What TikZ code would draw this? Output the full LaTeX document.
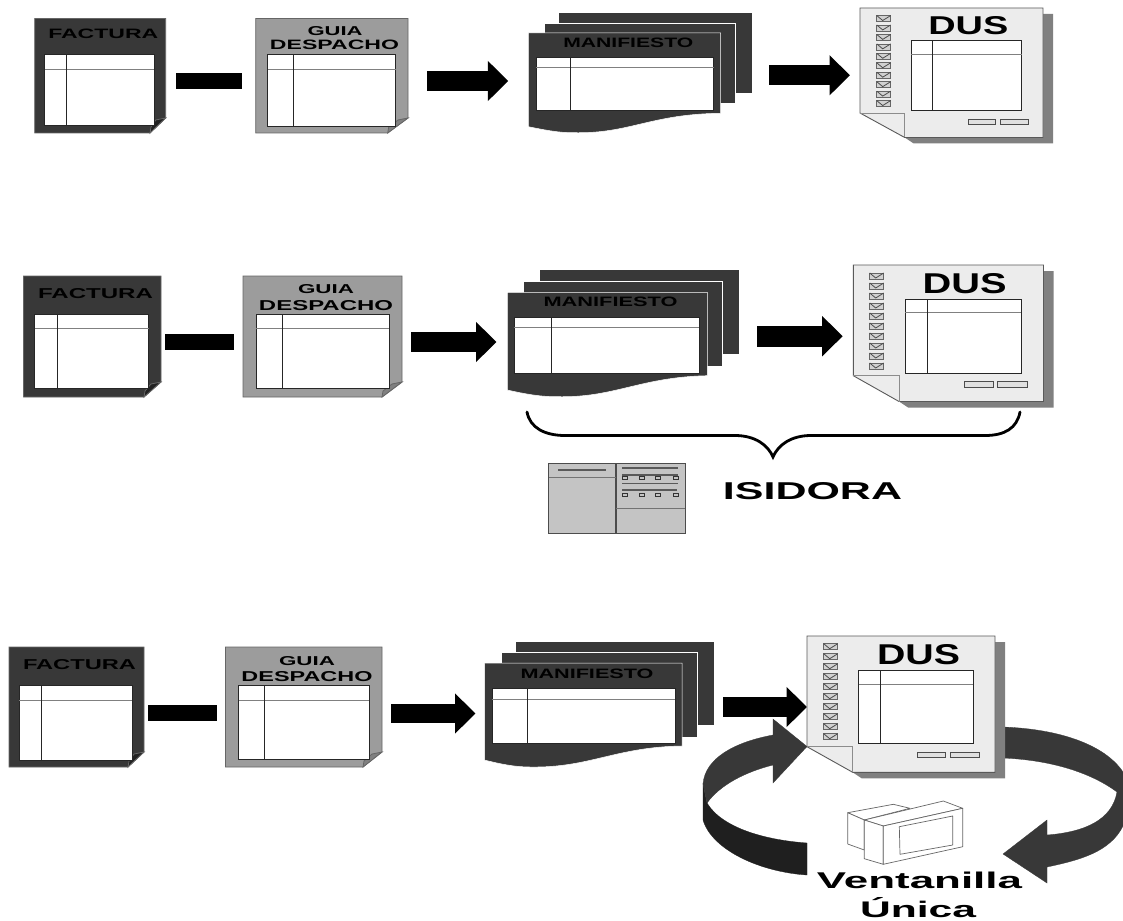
\documentclass[tikz,border=0pt]{standalone}
\usepackage{graphicx}
\usepackage{fontspec}
\setmainfont{Liberation Sans}
\usetikzlibrary{arrows.meta}
\definecolor{darkpg}{HTML}{383838}
\definecolor{darkfold}{HTML}{222222}
\definecolor{graypg}{HTML}{9C9C9C}
\definecolor{grayfold}{HTML}{808080}
\definecolor{edgegray}{HTML}{666666}
\definecolor{duspg}{HTML}{ECECEC}
\definecolor{shadowgray}{HTML}{808080}
\definecolor{isibox}{HTML}{C4C4C4}
\tikzset{
  txt/.style={inner sep=0pt,outer sep=0pt,anchor=base,font=\bfseries,text=black},
  sheetline/.style={draw=edgegray,line width=0.8pt},
  tablebox/.style={fill=white,draw=black!85,line width=0.9pt},
  rowline/.style={draw=black!50,line width=0.9pt},
  colline/.style={draw=black!85,line width=0.9pt},
  joinbar/.style={draw=black,line width=16pt},
  blockarrow/.style={draw=black,line width=#1pt,-{Triangle[length=20.5pt,width=39pt]}},
  brace/.style={draw=black,line width=2.8pt,line cap=round},
  isiline/.style={draw=black!70,line width=1.1pt},
  isibar/.style={draw=black!65,line width=1.4pt},
  isisq/.style={draw=black!80,fill=isibox,line width=0.7pt},
  ribbon/.style={fill=darkpg,draw=darkpg,line width=0.3pt},
  ribbondark/.style={fill=black!88,draw=black!88,line width=0.3pt},
  kiosk/.style={fill=white,draw=black!60,line width=0.7pt,line join=round},
  dusbtn/.style={fill=black!12,draw=black!70,line width=0.7pt},
}
% text stretched to a given width and height, placed by its baseline
\newcommand\lbl[6]{\node[txt] (#1) at (#2,#3) {\resizebox{#4pt}{#5pt}{#6}};}
% sheet with one clipped corner: fill, fold fill, x0,y0,x1,y1,cut x
\newcommand\sheet[7]{%
  \path[sheetline,fill=#1] (#3,#4) -- (#5,#4) -- (#5,#6-15) -- (#7,#6) -- (#3,#6) -- cycle;
  \path[sheetline,fill=#2] (#5,#6-15) -- (#5-10,#6-13) -- (#7+1,#6-6) -- (#7,#6) -- cycle;}
% table: x0,y0,x1,y1,column x,row y
\newcommand\grid[6]{%
  \path[tablebox] (#1,#2) rectangle (#3,#4);
  \path[rowline] (#1,#6) -- (#3,#6);
  \path[colline] (#5,#2) -- (#5,#4);}
% DUS page: x0,y0,x1,y1,fold x,fold y,check x,first check y,check step
\newcommand\duspage[9]{%
  \fill[shadowgray] (#3,#2+6) -- (#3+10,#2+6) -- (#3+10,#4+6) -- (#5+9,#4+6) -- (#5,#4) -- (#3,#4) -- cycle;
  \path[fill=duspg,draw=black!65,line width=0.9pt] (#1,#2) -- (#3,#2) -- (#3,#4) -- (#5,#4) -- (#1,#6) -- cycle;
  \draw[black!45,line width=0.8pt] (#1,#6) -- (#5,#6) -- (#5,#4);
  \foreach \k in {0,...,9}{
    \path[fill=black!18,draw=black!60,line width=0.6pt] (#7-7,#8+\k*#9-3) rectangle (#7+7,#8+\k*#9+3);
    \draw[black!70,line width=0.8pt] (#7-7,#8+\k*#9-3) -- (#7-1,#8+\k*#9+2) -- (#7+7,#8+\k*#9-3);
  }}
\newcommand\dusbuttons[6]{%
  \path[dusbtn] (#1,#5) rectangle (#2,#6);
  \path[dusbtn] (#3,#5) rectangle (#4,#6);}
\begin{document}
\begin{tikzpicture}[x=1pt,y=-1pt]
\useasboundingbox (0,0) rectangle (1123,920);
\fill[white] (0,0) rectangle (1123,920);

%%%%% ROW 1
\sheet{darkpg}{darkfold}{34.7}{18.5}{165.7}{133}{150}
\grid{44.7}{54.5}{154.3}{125.5}{66.3}{69}
\lbl{factA}{103.3}{39}{110}{9.5}{FACTURA}
\coordinate (a1) at (176,81); \coordinate (a2) at (242.3,81);
\draw[joinbar] (a1) -- (a2);
\sheet{graypg}{grayfold}{255.7}{18.5}{408}{133}{387.7}
\grid{267.7}{54.5}{395.7}{126}{293.7}{69}
\lbl{guiaA}{335}{36}{55}{9}{GUIA}
\lbl{despA}{334.5}{50}{129}{9.5}{DESPACHO}
\coordinate (b1) at (427.3,81); \coordinate (b2) at (508.3,81);
\draw[blockarrow=19.5] (b1) -- (b2);
\fill[darkpg] (559.3,13.3) rectangle (751.7,93);
\path[fill=darkpg,draw=white,line width=0.5pt] (544.3,23.3) rectangle (735,103);
\path[fill=darkpg,draw=white,line width=0.5pt] (528.3,33) -- (720.7,33) -- (720.7,113.3) .. controls (650,114) and (630,134) .. (573,132.7) .. controls (558,132.7) and (545,130) .. (528.3,126.7) -- cycle;
\grid{536}{57}{713.7}{110.7}{570}{67}
\lbl{manA}{628.3}{48}{130}{9.5}{MANIFIESTO}
\coordinate (c1) at (769.3,75.3); \coordinate (c2) at (850,75.3);
\draw[blockarrow=20] (c1) -- (c2);
\duspage{860}{8}{1043}{137.5}{904.7}{113}{883.7}{18.5}{9.45}
\grid{911}{40.7}{1021.6}{110.7}{932.3}{54}
\dusbuttons{968.3}{995}{1000}{1028.7}{119}{124.3}
\lbl{dusA}{968.3}{35}{80}{18}{DUS}

%%%%% ROW 2
\sheet{darkpg}{darkfold}{23.5}{276}{161}{397}{144}
\grid{34.5}{314.5}{148.5}{388.5}{57}{328}
\lbl{factB}{95.5}{298}{115}{10}{FACTURA}
\coordinate (d1) at (165,342); \coordinate (d2) at (234,342);
\draw[joinbar] (d1) -- (d2);
\sheet{graypg}{grayfold}{243}{276}{402}{397}{382}
\grid{256}{314.5}{389}{388.5}{282.5}{328}
\lbl{guiaB}{326}{293.5}{56}{9}{GUIA}
\lbl{despB}{326}{310}{134}{10}{DESPACHO}
\coordinate (e1) at (411,342); \coordinate (e2) at (496.5,342);
\draw[blockarrow=20] (e1) -- (e2);
\fill[darkpg] (540,270) rectangle (739.3,354.3);
\path[fill=darkpg,draw=white,line width=0.5pt] (523.3,281) rectangle (722.7,366);
\path[fill=darkpg,draw=white,line width=0.5pt] (507.3,292.3) -- (707.3,292.3) -- (707.3,375.7) .. controls (640,377) and (615,398) .. (556.7,396.7) .. controls (540,396.7) and (525,394) .. (507.3,390) -- cycle;
\grid{514}{317}{699.3}{373}{551.7}{327.7}
\lbl{manB}{610.5}{306.7}{134}{9.5}{MANIFIESTO}
\coordinate (f1) at (757.3,336.2); \coordinate (f2) at (842.7,336.2);
\draw[blockarrow=21] (f1) -- (f2);
\duspage{853.3}{265}{1043.5}{401.5}{899}{375.7}{876.7}{276}{10}
\grid{905.3}{299}{1021.4}{373}{927.3}{312.3}
\dusbuttons{964.3}{993.3}{997.7}{1027.5}{381.7}{387}
\lbl{dusB}{964.7}{293.3}{84}{20}{DUS}
% brace
\coordinate (g1) at (527,412); \coordinate (g2) at (773,457); \coordinate (g3) at (1020,412);
\draw[brace] (g1) .. controls (530,428) and (545,435.5) .. (565,435.5) -- (735,435.5) .. controls (755,435.5) and (768,445) .. (g2) .. controls (778,445) and (791,435.5) .. (811,435.5) -- (985,435.5) .. controls (1005,435.5) and (1017,428) .. (g3);
% ISIDORA window
\path[fill=isibox,draw=black!70,line width=0.9pt] (548.5,463.5) rectangle (685,533);
\draw[isiline] (616,463.5) -- (616,533);
\draw[black!55,line width=0.8pt] (548.5,477.5) -- (616,477.5);
\draw[black!55,line width=0.8pt] (616,508.5) -- (685,508.5);
\draw[isibar] (558,470) -- (606,470);
\draw[isibar] (622,468) -- (678,468);
\draw[isibar] (622,475) -- (678,475);
\draw[isibar] (622,483.5) -- (678,483.5);
\draw[isibar] (622,490) -- (677,490);
\foreach \qx in {624.5,642,658,675.5}{
  \path[isisq] (\qx-2.5,476.5) rectangle (\qx+2.5,479.5);
  \path[isisq] (\qx-2.5,493.5) rectangle (\qx+2.5,496.5);}
\lbl{isi}{812.5}{499}{179}{17}{ISIDORA}

%%%%% ROW 3
\sheet{darkpg}{darkfold}{9}{647}{144}{767}{128}
\grid{19}{685.5}{132}{760}{41.5}{700}
\lbl{factC}{79.5}{669}{113}{10}{FACTURA}
\coordinate (h1) at (148,713); \coordinate (h2) at (216.5,713);
\draw[joinbar] (h1) -- (h2);
\sheet{graypg}{grayfold}{225.5}{647}{382}{767}{363}
\grid{238.5}{685.5}{369}{759.5}{264}{700}
\lbl{guiaC}{307}{665}{56}{9}{GUIA}
\lbl{despC}{307}{681}{131}{10}{DESPACHO}
\coordinate (i1) at (391,713.5); \coordinate (i2) at (475.5,713.5);
\draw[blockarrow=19] (i1) -- (i2);
\fill[darkpg] (516,641.5) rectangle (714,725);
\path[fill=darkpg,draw=white,line width=0.5pt] (501,652) rectangle (697,737);
\path[fill=darkpg,draw=white,line width=0.5pt] (484.5,663) -- (682,663) -- (682,746) .. controls (615,747) and (590,768) .. (530,767) .. controls (515,767) and (500,764) .. (484.5,760) -- cycle;
\grid{492}{688}{675}{743}{527.5}{699}
\lbl{manC}{587}{678}{133}{9.5}{MANIFIESTO}
\coordinate (j1) at (723,707); \coordinate (j2) at (807,707);
\draw[blockarrow=20] (j1) -- (j2);
% right curved arrow
\path[ribbon] (1003,727) .. controls (1060,729) and (1105,745) .. (1123,772) -- (1123,826) .. controls (1110,852) and (1080,860) .. (1047,867) -- (1047,883) -- (1003,854) -- (1047,820) -- (1047,835) .. controls (1085,832) and (1112,820) .. (1117,792) .. controls (1090,772) and (1050,760) .. (1003,758) -- cycle;
\duspage{807}{636}{995}{772.3}{852.7}{746.7}{830.7}{646.7}{10}
\grid{858.7}{670.7}{973.3}{743.3}{880.3}{684}
\dusbuttons{917.3}{945.7}{950.7}{979.3}{752.7}{757.3}
\lbl{dusC}{918.5}{664}{83}{20}{DUS}
% left curved arrow
\path[ribbondark] (703,784) -- (703,820) .. controls (712,850) and (760,872) .. (807,875) -- (807,843) .. controls (765,840) and (722,828) .. (707,803) -- cycle;
\path[ribbon] (773,735) .. controls (735,742) and (705,758) .. (703,784) -- (707,803) .. controls (720,785) and (745,772) .. (773,765) -- (773,783) -- (807,746.5) -- (773,719) -- cycle;
% kiosk
\path[kiosk] (847.7,812.7) -- (893.3,804.3) -- (910,808.3) -- (864.3,820) -- cycle;
\path[kiosk] (847.7,812.7) -- (864.3,820) -- (864.3,850) -- (847.7,844) -- cycle;
\path[kiosk] (864.3,820) -- (943.3,801) -- (962.7,808.3) -- (883.3,826) -- cycle;
\path[kiosk] (864.3,820) -- (883.3,826) -- (883.3,864.3) -- (864.3,858.7) -- cycle;
\path[kiosk] (883.3,826) -- (962.7,808.3) -- (962.7,846.7) -- (883.3,864.3) -- cycle;
\path[kiosk] (899.3,826.7) -- (952.7,816) -- (952.7,845) -- (900,854.3) -- cycle;
\lbl{vent}{919.5}{888}{205}{16.5}{Ventanilla}
\lbl{unica}{918}{917}{116}{20}{Única}
\end{tikzpicture}
\end{document}
